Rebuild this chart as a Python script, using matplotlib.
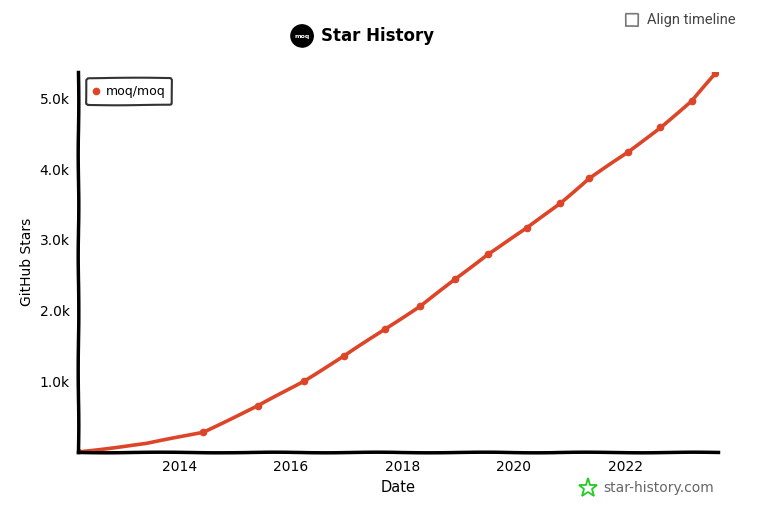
import pandas as pd
import matplotlib.pyplot as plt
import matplotlib.dates as mdates
from matplotlib.patches import Ellipse, Rectangle
from matplotlib.lines import Line2D

dates = ['2012-03-06', '2013-06-01', '2014-06-05', '2015-05-28', '2016-03-25',
         '2016-12-14', '2017-09-06', '2018-04-27', '2018-12-14', '2019-07-13',
         '2020-03-25', '2020-10-30', '2021-05-08', '2022-01-18', '2022-08-18',
         '2023-03-10', '2023-08-14']
stars = [0, 120, 282, 650, 1003, 1356, 1737, 2062, 2443, 2797,
         3164, 3517, 3870, 4237, 4590, 4958, 5353]
repo = 'moq/moq'
red = '#dd4528'

x = pd.to_datetime(dates)

plt.xkcd(scale=0.3, length=120, randomness=2)
plt.rcParams['font.family'] = ['DejaVu Sans']
plt.rcParams['path.effects'] = []

fig = plt.figure(figsize=(7.79, 5.16), dpi=100)
ax = fig.add_axes([0.100, 0.124, 0.822, 0.736])

marks = [i for i in range(len(stars)) if i != 1]
ax.plot(x, stars, color=red, lw=2.6, marker='o', ms=4.5, markevery=marks, label=repo)

ax.set_xlim(pd.Timestamp('2012-03-06'), pd.Timestamp('2023-09-01'))
ax.set_ylim(0, 5370)
ax.xaxis.set_major_locator(mdates.YearLocator(2))
ax.xaxis.set_major_formatter(mdates.DateFormatter('%Y'))
ax.set_yticks([1000, 2000, 3000, 4000, 5000])
ax.set_yticklabels(['1.0k', '2.0k', '3.0k', '4.0k', '5.0k'])
ax.tick_params(length=0, labelsize=10, pad=6)
for s in ['top', 'right']:
    ax.spines[s].set_visible(False)
for s in ['left', 'bottom']:
    ax.spines[s].set_linewidth(2.5)
ax.set_xlabel('Date', fontsize=10.5, labelpad=4)
ax.set_ylabel('GitHub Stars', fontsize=10, labelpad=4)

leg = ax.legend(loc='upper left', fontsize=9, frameon=True, handlelength=0.5,
                handletextpad=0.5, borderpad=0.55, markerscale=1.0,
                bbox_to_anchor=(0.003, 1.0))
leg.get_frame().set_edgecolor('black')
leg.get_frame().set_linewidth(1.5)
for h in leg.legend_handles:
    h.set_linewidth(0)

# title with logo
fig.text(321 / 779, 0.930, 'Star History', fontsize=12, fontweight='semibold',
         va='center', ha='left')
fig.patches.append(Ellipse((302 / 779, 0.930), 22 / 779, 22 / 516, transform=fig.transFigure,
                           facecolor='black', edgecolor='black'))
fig.text(302 / 779, 0.930, 'moq', fontsize=4.5, color='white', fontweight='bold',
         ha='center', va='center')

# align timeline checkbox
fig.patches.append(Rectangle((626 / 779, 1 - 26 / 516), 12 / 779, 12 / 516,
                             transform=fig.transFigure, facecolor='white',
                             edgecolor='#777777', lw=1.2))
fig.text(647 / 779, 1 - 20 / 516, 'Align timeline', fontsize=10.5, color='#444444',
         family='Roboto', va='center', ha='left')

# watermark
fig.lines.append(Line2D([588 / 779], [1 - 488 / 516], transform=fig.transFigure,
                        marker='*', ms=14, mfc='none', mec='#22cc22', mew=1.3))
fig.text(603 / 779, 1 - 488 / 516, 'star-history.com', fontsize=10, color='#666666',
         va='center', ha='left')

fig.savefig('out.png', dpi=100)
